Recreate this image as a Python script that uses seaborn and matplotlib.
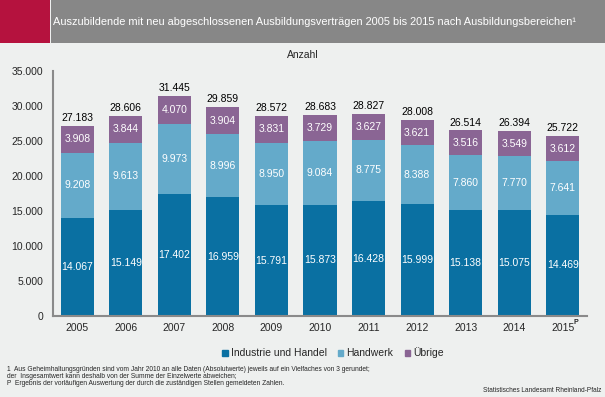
import numpy as np
import pandas as pd
import seaborn as sns
import matplotlib.pyplot as plt
from matplotlib.patches import Rectangle

years = ["2005", "2006", "2007", "2008", "2009", "2010", "2011", "2012", "2013", "2014", "2015"]
industrie = [14067, 15149, 17402, 16959, 15791, 15873, 16428, 15999, 15138, 15075, 14469]
handwerk = [9208, 9613, 9973, 8996, 8950, 9084, 8775, 8388, 7860, 7770, 7641]
uebrige = [3908, 3844, 4070, 3904, 3831, 3729, 3627, 3621, 3516, 3549, 3612]
totals = [27183, 28606, 31445, 29859, 28572, 28683, 28827, 28008, 26514, 26394, 25722]
y_ticks = [0, 5000, 10000, 15000, 20000, 25000, 30000, 35000]

c_ind = "#0a70a2"
c_hw = "#64aaca"
c_ue = "#8a6594"
bg = "#eef0ef"


def de(v):
    return f"{v:,}".replace(",", ".")


sns.set_style("white")
plt.rcParams["font.family"] = ["Liberation Sans", "DejaVu Sans"]

df = pd.DataFrame({"Jahr": years, "Industrie": industrie, "Handwerk": handwerk, "Uebrige": uebrige})
df["top"] = df["Industrie"] + df["Handwerk"] + df["Uebrige"]
df["mid"] = df["Industrie"] + df["Handwerk"]

fig = plt.figure(figsize=(6.05, 3.97), dpi=100)
fig.patch.set_facecolor(bg)
ax = fig.add_axes([53 / 605, 81 / 397, 534 / 605, 245 / 397])
ax.set_facecolor(bg)

w = 0.68
sns.barplot(data=df, x="Jahr", y="top", color=c_ue, width=w, saturation=1, linewidth=0, ax=ax)
sns.barplot(data=df, x="Jahr", y="mid", color=c_hw, width=w, saturation=1, linewidth=0, ax=ax)
sns.barplot(data=df, x="Jahr", y="Industrie", color=c_ind, width=w, saturation=1, linewidth=0, ax=ax)

for i in range(len(years)):
    ax.text(i, industrie[i] / 2, de(industrie[i]), ha="center", va="center", color="white", fontsize=7.5)
    ax.text(i, industrie[i] + handwerk[i] / 2, de(handwerk[i]), ha="center", va="center", color="white", fontsize=7.5)
    ax.text(i, industrie[i] + handwerk[i] + uebrige[i] / 2, de(uebrige[i]), ha="center", va="center",
            color="white", fontsize=7.5)
    ax.annotate(de(totals[i]), (i, df["top"][i]), xytext=(0, 2), textcoords="offset points",
                ha="center", va="bottom", fontsize=7.5, color="black")

ax.set_xlim(-0.5, 10.5)
ax.set_ylim(0, 35000)
ax.set_yticks(y_ticks)
ax.set_yticklabels([de(v) for v in y_ticks], fontsize=7.5)
ax.set_xticks(range(len(years)))
ax.set_xticklabels(years, fontsize=7.5)
ax.set_xticks(np.arange(-0.5, 11, 1), minor=True)
ax.tick_params(axis="x", which="major", length=0, pad=5)
ax.tick_params(axis="x", which="minor", length=4, color="#8a8a8a", width=1.5, direction="out")
ax.tick_params(axis="y", length=4, color="#8a8a8a", width=1.5, direction="out", pad=3)
ax.set_xlabel("")
ax.set_ylabel("")
for s in ["top", "right"]:
    ax.spines[s].set_visible(False)
for s in ["left", "bottom"]:
    ax.spines[s].set_color("#8a8a8a")
    ax.spines[s].set_linewidth(1.5)

# superscript P after the last year
fig.text(574 / 605, 1 - 323 / 397, "P", fontsize=5, fontweight="bold", ha="left", va="center")

# header band
fig.patches.append(Rectangle((0, 1 - 43 / 397), 50 / 605, 43 / 397, transform=fig.transFigure,
                             facecolor="#b5123e", edgecolor="none"))
fig.patches.append(Rectangle((51 / 605, 1 - 43 / 397), 554 / 605, 43 / 397, transform=fig.transFigure,
                             facecolor="#878787", edgecolor="none"))
fig.text(53 / 605, 1 - 22 / 397,
         "Auszubildende mit neu abgeschlossenen Ausbildungsverträgen 2005 bis 2015 nach Ausbildungsbereichen¹",
         color="white", fontsize=7.9, va="center", ha="left")
fig.text(303 / 605, 1 - 55 / 397, "Anzahl", fontsize=7.5, ha="center", va="center")

# legend
handles = [Rectangle((0, 0), 1, 1, color=c) for c in [c_ind, c_hw, c_ue]]
fig.legend(handles, ["Industrie und Handel", "Handwerk", "Übrige"], loc="center",
           bbox_to_anchor=(333 / 605, 1 - 353 / 397), ncol=3, frameon=False, fontsize=7.5,
           handlelength=0.5, handleheight=0.5, handletextpad=0.3, columnspacing=1.1)

notes = [
    "1  Aus Geheimhaltungsgründen sind vom Jahr 2010 an alle Daten (Absolutwerte) jeweils auf ein Vielfaches von 3 gerundet;",
    "der  Insgesamtwert kann deshalb von der Summe der Einzelwerte abweichen;",
    "P  Ergebnis der vorläufigen Auswertung der durch die zuständigen Stellen gemeldeten Zahlen.",
]
for k, t in enumerate(notes):
    fig.text(7 / 605, 1 - (369.5 + 7.2 * k) / 397, t, fontsize=4.8, ha="left", va="center")
fig.text(601 / 605, 1 - 391 / 397, "Statistisches Landesamt Rheinland-Pfalz", fontsize=4.7, ha="right", va="center")

fig.savefig("out.png", dpi=100, facecolor=bg)
